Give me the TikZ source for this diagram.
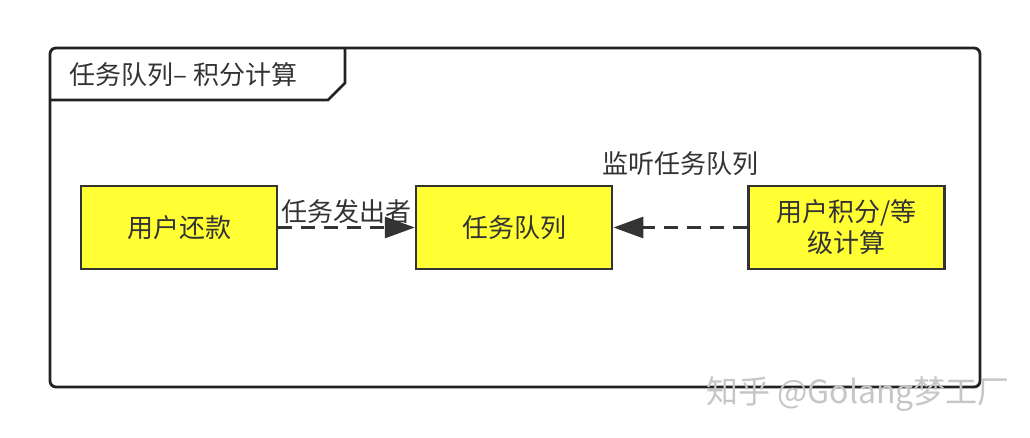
\documentclass[tikz,border=0pt]{standalone}
\usepackage{fontspec}
\setmainfont{Noto Sans CJK SC}
\usetikzlibrary{arrows.meta, positioning}
\definecolor{BoxYellow}{RGB}{255, 255, 51}
\definecolor{InkGray}{RGB}{51, 51, 51}
\definecolor{FrameGray}{RGB}{34, 34, 34}

\begin{document}
\begin{tikzpicture}[
    x=1pt, y=-1pt,
    every node/.style={font=\fontsize{26}{31}\selectfont, text=InkGray, align=center},
    stage/.style={rectangle, draw=InkGray, fill=BoxYellow, line width=2.6pt, minimum width=196pt, minimum height=83pt, inner sep=3pt},
    flow/.style={-{Triangle[length=30pt, width=21pt]}, draw=InkGray, line width=3pt, dash pattern=on 14pt off 9pt},
    frame/.style={draw=FrameGray, line width=2.8pt}
  ]
    \useasboundingbox (0,0) rectangle (1030,438);

    % Outer frame with title tab
    \draw[frame, rounded corners=6pt] (50,48) rectangle (980,387);
    \draw[frame, line join=round] (50,100) -- (328,100) -- (345,83) -- (345,48);
    \node[anchor=west] (title) at (66,75) {任务队列– 积分计算};

    % Stages
    \node[stage] (repay) at (179,227.5) {用户还款};
    \node[stage, right=136.5pt of repay] (queue) {任务队列};
    \node[stage, right=133.5pt of queue] (points) {用户积分/等\\级计算};

    % Connections
    \draw[flow] (repay) -- (queue) node[midway, above=-1pt] {任务发出者};
    \draw[flow] (points) -- (queue) node[midway, above=47pt] {监听任务队列};

    % Watermark
    \node[text=gray!45, font=\fontsize{32}{34}\selectfont] (mark) at (858,394) {知乎 @Golang梦工厂};
  \end{tikzpicture}
\end{document}
